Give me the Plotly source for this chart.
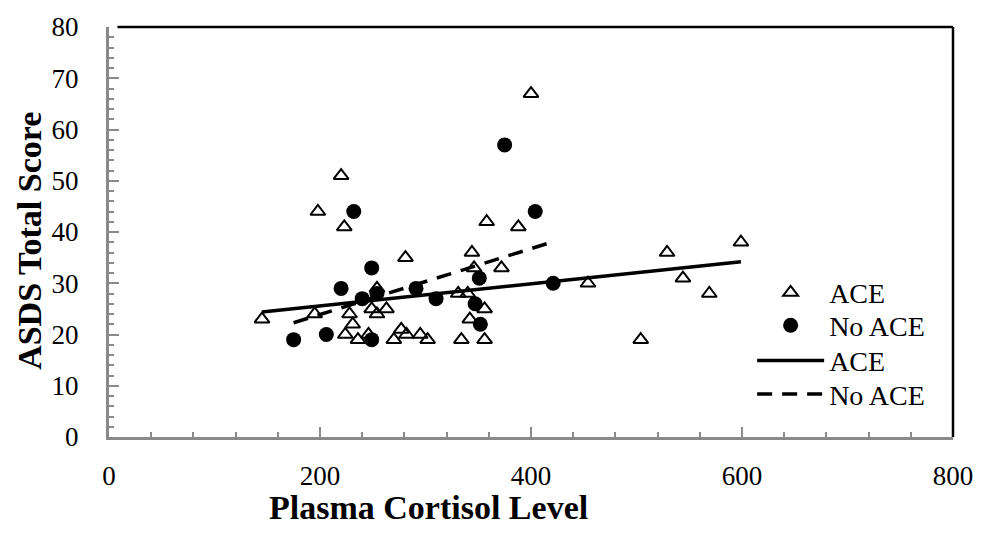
import plotly.graph_objects as go

# ACE group (open triangles)
ace_x = [145, 195, 198, 220, 223, 224, 228, 231, 236, 246, 249, 254, 254, 263, 270, 277, 282, 281,
         295, 302, 331, 334, 340, 342, 344, 346, 356, 356, 358, 372, 388, 400, 454, 504, 529, 544, 569, 599]
ace_y = [23, 24, 44, 51, 41, 20, 24, 22, 19, 20, 25, 29, 24, 25, 19, 21, 20, 35,
         20, 19, 28, 19, 28, 23, 36, 33, 25, 19, 42, 33, 41, 67, 30, 19, 36, 31, 28, 38]

# No ACE group (filled circles)
noace_x = [175, 206, 220, 232, 240, 249, 249, 254, 291, 310, 347, 351, 352, 375, 404, 421]
noace_y = [19, 20, 29, 44, 27, 33, 19, 28, 29, 27, 26, 31, 22, 57, 44, 30]

# Linear trend lines (endpoints)
ace_trend_x = [145, 599]
ace_trend_y = [24.4, 34.2]
noace_trend_x = [175, 421]
noace_trend_y = [22.3, 38.1]

x_ticks = [0, 200, 400, 600, 800]
y_ticks = [0, 10, 20, 30, 40, 50, 60, 70, 80]

FONT = "Liberation Serif"
GRAY = "#898989"

fig = go.Figure()
fig.add_trace(go.Scatter(x=ace_x, y=ace_y, mode="markers", name="ACE", legend="legend",
                         marker=dict(symbol="triangle-up-open", size=13, color="black",
                                     line=dict(width=2, color="black"))))
fig.add_trace(go.Scatter(x=noace_x, y=noace_y, mode="markers", name="No ACE", legend="legend2",
                         marker=dict(symbol="circle", size=15, color="black")))
fig.add_trace(go.Scatter(x=ace_trend_x, y=ace_trend_y, mode="lines", name="ACE", legend="legend3",
                         line=dict(color="black", width=3.5)))
fig.add_trace(go.Scatter(x=noace_trend_x, y=noace_trend_y, mode="lines", name="No ACE", legend="legend4",
                         line=dict(color="black", width=3.5, dash="15px,10px")))

axis_common = dict(
    showgrid=False, zeroline=False, showline=True, linecolor=GRAY, linewidth=3,
    ticks="inside", tickcolor=GRAY, tickwidth=2, ticklen=10,
    tickfont=dict(family=FONT, size=27, color="black"),
)

fig.update_xaxes(range=[0, 800], tickvals=x_ticks, ticklabelstandoff=13,
                 minor=dict(dtick=40, ticks="inside", ticklen=5, tickcolor=GRAY, tickwidth=2),
                 **axis_common)
fig.update_yaxes(range=[0, 80], tickvals=y_ticks, ticklabelstandoff=22,
                 minor=dict(dtick=2, ticks="inside", ticklen=5, tickcolor=GRAY, tickwidth=2),
                 **axis_common)

# black frame on top and right
fig.add_shape(type="line", xref="paper", yref="paper", x0=0.01, x1=1, y0=1, y1=1,
              line=dict(color="black", width=2.5))
fig.add_shape(type="line", xref="paper", yref="paper", x0=1, x1=1, y0=0, y1=1,
              line=dict(color="black", width=2.5))

fig.add_annotation(text="<b>Plasma Cortisol Level</b>", xref="paper", yref="paper",
                   x=0.378, y=-0.172, showarrow=False, xanchor="center", yanchor="middle",
                   font=dict(family=FONT, size=34, color="black"))
fig.add_annotation(text="<b>ASDS Total Score</b>", xref="paper", yref="paper",
                   x=-0.095, y=0.478, showarrow=False, textangle=-90,
                   xanchor="center", yanchor="middle",
                   font=dict(family=FONT, size=34, color="black"))

leg_common = dict(x=0.762, xanchor="left", yanchor="middle", bgcolor="rgba(0,0,0,0)",
                  itemwidth=67, font=dict(family=FONT, size=28, color="black"))

fig.update_layout(
    width=985, height=533,
    margin=dict(l=109, r=28, t=21, b=96),
    paper_bgcolor="white", plot_bgcolor="white",
    showlegend=True,
    legend=dict(y=0.352, **leg_common),
    legend2=dict(y=0.272, **leg_common),
    legend3=dict(y=0.186, **leg_common),
    legend4=dict(y=0.104, **leg_common),
)

fig.write_html("out.html")
